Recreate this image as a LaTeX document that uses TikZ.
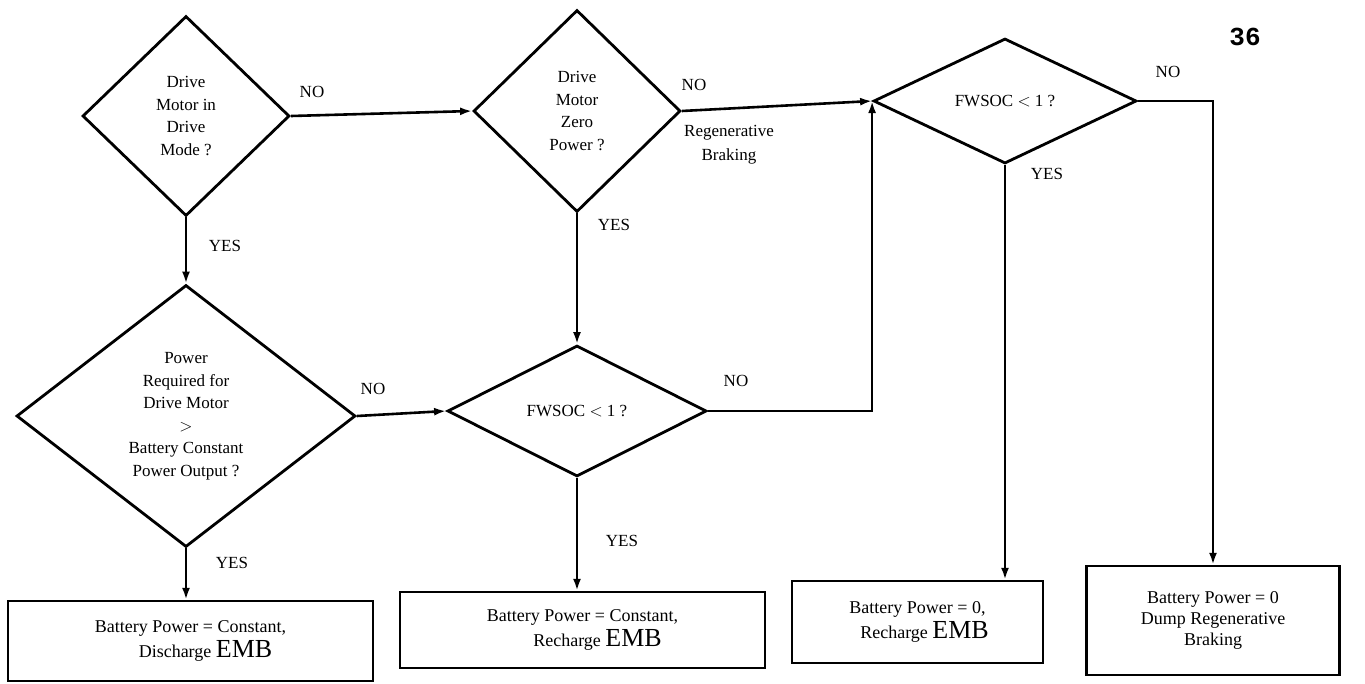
\documentclass[tikz,border=0pt]{standalone}
\usepackage{fontspec}
\setmainfont{Liberation Serif}
\newfontfamily\pagefont{Liberation Mono}
\usetikzlibrary{shapes.geometric,arrows.meta}
\begin{document}
\begin{tikzpicture}[x=1pt,y=-1pt,
  dec/.style={diamond, draw, line width=2.8pt, inner sep=0pt, align=center, font=\fontsize{17}{22.5}\selectfont},
  res/.style={rectangle, draw, line width=2.4pt, inner sep=0pt, align=center, font=\fontsize{18}{25}\selectfont},
  lbl/.style={font=\fontsize{17}{24}\selectfont, align=center, inner sep=0pt},
  flow/.style={line width=2.6pt, -{Latex[length=12pt,width=8pt]}}]
\useasboundingbox (0,0) rectangle (1365,683);
\newcommand{\emb}{{\fontsize{26}{26}\selectfont EMB}}

% decisions
\node[dec, minimum width=207pt, minimum height=200pt] (d1) at (186,116) {Drive\\Motor in\\Drive\\Mode ?};
\node[dec, minimum width=207pt, minimum height=202pt] (d2) at (577,111) {Drive\\Motor\\Zero\\Power ?};
\node[dec, minimum width=263pt, minimum height=125pt] (d3) at (1005,101) {FWSOC $<$ 1 ?};
\node[dec, minimum width=339pt, minimum height=262pt] (d4) at (186,416) {Power\\Required for\\Drive Motor\\$>$\\Battery Constant\\Power Output ?};
\node[dec, minimum width=259pt, minimum height=131pt] (d5) at (577,411) {FWSOC $<$ 1 ?};

% results
\node[res, minimum width=365pt, minimum height=80pt] (b5) at (190.5,641) {Battery Power = Constant,\\\hspace*{30pt}Discharge \emb};
\node[res, minimum width=365pt, minimum height=76pt] (b6) at (582.5,630) {Battery Power = Constant,\\\hspace*{30pt}Recharge \emb};
\node[res, minimum width=251pt, minimum height=82pt] (b7) at (917.5,622) {Battery Power = 0,\\\hspace*{14pt}Recharge \emb};
\node[res, minimum width=253pt, minimum height=109pt, font=\fontsize{18}{21}\selectfont] (b8) at (1213,620.5) {Battery Power = 0\\Dump Regenerative\\Braking};

% connectors
\draw[flow] (d1.east) -- (d2.west);
\draw[flow] (d1.south) -- (d4.north);
\draw[flow] (d2.east) -- (d3.west);
\draw[flow] (d2.south) -- (d5.north);
\draw[flow] (d4.east) -- (d5.west);
\draw[flow] (d4.south) -- (d4.south |- b5.north);
\draw[flow] (d5.south) -- (d5.south |- b6.north);
\draw[flow] (d5.east) -- (d5.east -| d3.west) -- (d3.west);
\draw[flow] (d3.south) -- (d3.south |- b7.north);
\draw[flow] (d3.east) -| (b8.north);

% labels
\node[lbl] (l1) at (312,92) {NO};
\node[lbl] (l2) at (225,246) {YES};
\node[lbl] (l3) at (694,85) {NO};
\node[lbl] (l4) at (729,145) {Regenerative\\Braking};
\node[lbl] (l5) at (614,225) {YES};
\node[lbl] (l6) at (373,389) {NO};
\node[lbl] (l7) at (232,563) {YES};
\node[lbl] (l8) at (622,541) {YES};
\node[lbl] (l9) at (736,381) {NO};
\node[lbl] (l10) at (1047,174) {YES};
\node[lbl] (l11) at (1168,72) {NO};

\node[font=\pagefont\bfseries\fontsize{26}{26}\selectfont, inner sep=0pt] (pg) at (1245,37) {36};
\end{tikzpicture}
\end{document}
